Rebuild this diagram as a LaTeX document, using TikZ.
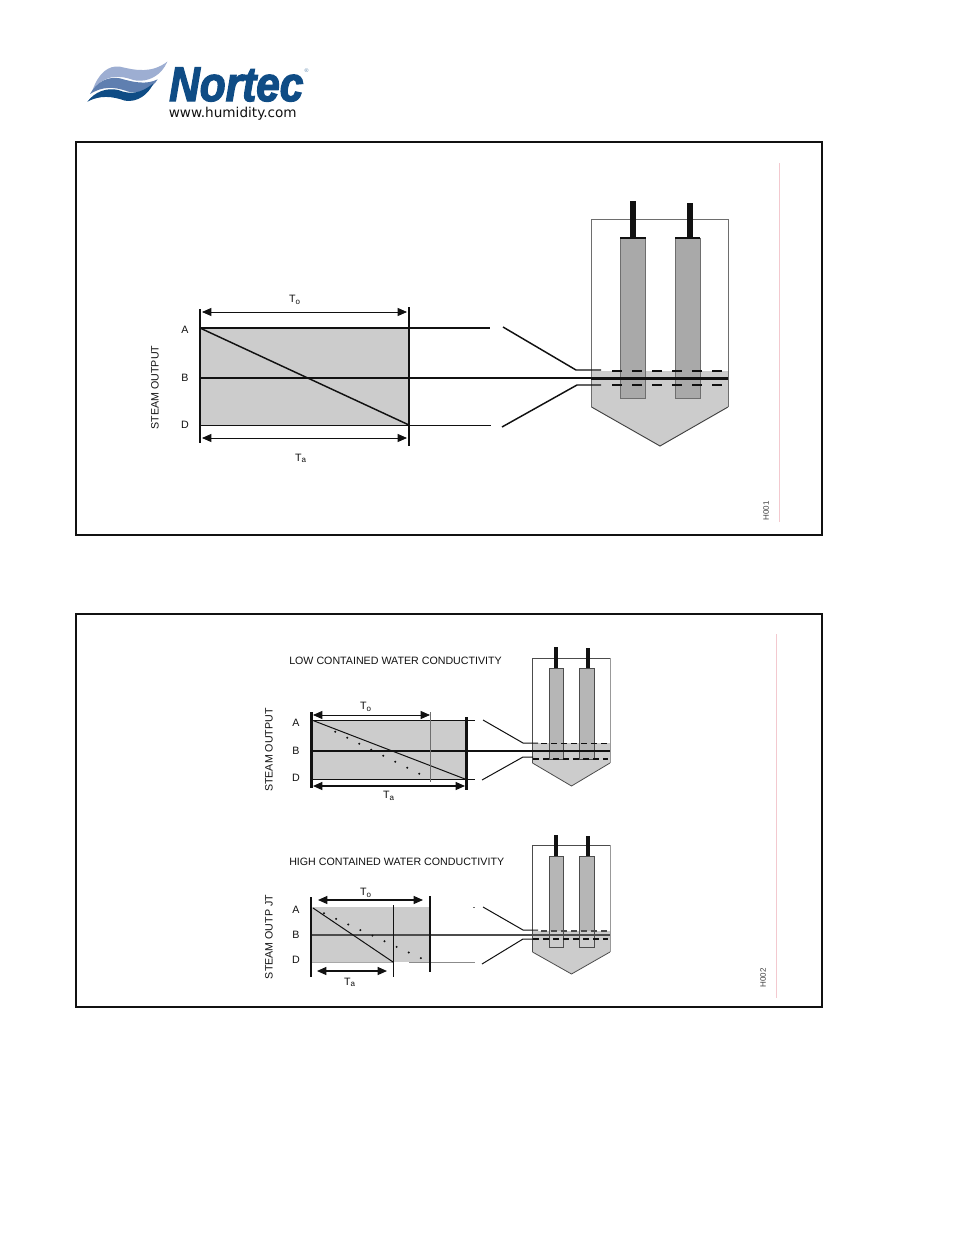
\documentclass[tikz,border=0pt]{standalone}
\usepackage{fontspec}
\setmainfont{Liberation Sans}
\newfontfamily\logofont[FakeBold=3]{Liberation Sans Bold Italic}
\newfontfamily\urlfont{DejaVu Sans}
\usetikzlibrary{arrows.meta}
\definecolor{chartgray}{HTML}{CCCCCC}
\definecolor{elecgray}{HTML}{A9A9A9}
\definecolor{elecgrayb}{HTML}{B6B6B6}
\definecolor{edgegray}{HTML}{6E6E6E}
\definecolor{ink}{HTML}{111111}
\definecolor{logoblue}{HTML}{0F4C85}
\definecolor{wavelight}{HTML}{9DAED2}
\definecolor{wavemid}{HTML}{5F7FB0}
\definecolor{pinkline}{HTML}{F3C9CF}
\tikzset{
  x=0.75pt,y=-0.75pt,
  frameline/.style={draw=ink,line width=1.5pt},
  pinkrule/.style={draw=pinkline,line width=0.6pt},
  fillchart/.style={fill=chartgray,draw=none},
  bar/.style={draw=ink,line width=2.2pt},
  level/.style={draw=ink,line width=1.1pt},
  thinlevel/.style={draw=ink,line width=0.75pt},
  greylevel/.style={draw=edgegray!80,line width=0.7pt},
  dashlevel/.style={draw=ink,line width=1.5pt,dash pattern=on 7.5pt off 7.5pt},
  dashlevelb/.style={draw=ink,line width=0.9pt,dash pattern=on 4.5pt off 3pt},
  dim/.style={draw=ink,line width=0.6pt,{Triangle[length=7pt,width=6pt]}-{Triangle[length=7pt,width=6pt]}},
  tankline/.style={draw=edgegray,line width=0.7pt},
  tanklineb/.style={draw=ink!75,line width=0.6pt},
  rod/.style={draw=ink,line width=4.5pt},
  rodb/.style={draw=ink,line width=3pt},
  lbl/.style={font=\fontsize{8}{9}\selectfont,text=ink,inner sep=0pt},
  title/.style={font=\fontsize{8}{9}\selectfont,text=ink,inner sep=0pt,anchor=west},
  code/.style={font=\fontsize{6}{7}\selectfont,text=ink!80,inner sep=0pt,rotate=90}
}
\begin{document}
\begin{tikzpicture}
\useasboundingbox[fill=white] (0,0) rectangle (954,1235);
% logo
\begin{scope}[shift={(70,50)},x=0.25pt,y=-0.25pt]
\fill[wavelight] (68,120) .. controls (85,70) and (115,45) .. (150,50) .. controls (200,62) and (245,70) .. (292,35) .. controls (275,75) and (235,100) .. (190,90) .. controls (140,72) and (100,78) .. (68,120) -- cycle;
\fill[wavemid] (60,132) .. controls (80,95) and (115,78) .. (150,85) .. controls (190,97) and (230,105) .. (263,88) .. controls (245,118) and (210,132) .. (175,125) .. controls (130,108) and (95,110) .. (60,132) -- cycle;
\fill[logoblue] (52,155) .. controls (75,125) and (110,112) .. (145,120) .. controls (180,135) and (215,130) .. (250,100) .. controls (235,135) and (200,158) .. (165,152) .. controls (125,138) and (90,135) .. (52,155) -- cycle;
\end{scope}
\node[inner sep=0pt,anchor=base west,text=logoblue,xscale=0.87,text depth=0pt,text height=26pt] (logoname) at (169,101) {\logofont\fontsize{36.5}{38}\selectfont Nortec};
\node[inner sep=0pt,text=logoblue!70] (logoreg) at (306.5,71) {\fontsize{4}{5}\selectfont ®};
\node[inner sep=0pt,text=ink,anchor=base west,text height=7pt,text depth=2pt] (logourl) at (168.5,117) {\urlfont\fontsize{10.2}{11}\selectfont www.humidity.com};
% frames
\draw[frameline] (76,142) rectangle (822,535);
\draw[frameline] (76,614) rectangle (822,1007);
\draw[pinkrule] (779.5,163) -- (779.5,522);
\draw[pinkrule] (776.5,634) -- (776.5,998);
\node[code] (h1) at (766,511) {H001};
\node[code] (h2) at (763,978) {H002};

% ---------- panel 1
\fill[fillchart] (200,328) rectangle (409,425);
\fill[fillchart] (591.5,371) -- (728,371) -- (728,407) -- (660,446) -- (591.5,407) -- cycle;
\draw[tankline] (591.5,407) -- (591.5,219.5) -- (728,219.5) -- (728,407);
\draw[tankline,draw=ink!80] (591.5,407) -- (660,446) -- (728,407);
\draw[tankline,fill=elecgray] (620,238) rectangle (645.5,398.5);
\draw[tankline,fill=elecgray] (675,238) rectangle (700,398.5);
\draw[draw=ink,line width=0.8pt] (620,238) -- (645.5,238) (675,238) -- (700,238);
\draw[rod] (632.5,201) -- (632.5,238);
\draw[rod] (689.5,203) -- (689.5,239);
\draw[level] (200,328) -- (490,328);
\draw[level] (200,425.5) -- (491,425.5);
\draw[level] (200,378) -- (591,378);
\draw[draw=ink,line width=1.7pt] (591,378.5) -- (728,378.5);
\draw[level] (200,328) -- (409,425);
\draw[bar] (200,309) -- (200,443);
\draw[bar] (409,307) -- (409,446);
\draw[dim] (202,312) -- (407,312);
\draw[dim] (202,438) -- (407,438);
\draw[level] (503,327) -- (576,370) -- (601,370);
\draw[level] (502,427) -- (577,385) -- (601,385);
\draw[dashlevel] (612,370.5) -- (722,370.5);
\draw[dashlevel] (612,385) -- (722,385);
\node[lbl] (p1to) at (295,300) {T\textsubscript{o}};
\node[lbl] (p1ta) at (301,458.5) {T\textsubscript{a}};
\node[lbl] (p1a) at (185,329.5) {A};
\node[lbl] (p1b) at (185,377.5) {B};
\node[lbl] (p1d) at (185,425) {D};
\node[lbl,rotate=90] (p1s) at (155,387.5) {STEAM OUTPUT};

% ---------- panel 2 top
\node[title] (t1) at (289,661) {LOW CONTAINED WATER CONDUCTIVITY};
\fill[fillchart] (311,720.5) rectangle (466,779);
\fill[fillchart] (532.5,743) -- (610,743) -- (610,763) -- (571.5,786) -- (532.5,763) -- cycle;
\draw[tanklineb] (532.5,763) -- (532.5,658) -- (610,658);
\draw[tankline,draw=edgegray!70] (610,658) -- (610,763);
\draw[tanklineb] (532.5,763) -- (571.5,786) -- (610,763);
\draw[tanklineb,fill=elecgrayb] (549,668) rectangle (563,759);
\draw[tanklineb,fill=elecgrayb] (579,668) rectangle (594,759);
\draw[rodb] (555.5,647) -- (555.5,668);
\draw[rodb] (587.5,648) -- (587.5,668);
\draw[thinlevel] (311,720.5) -- (475,720.5);
\draw[thinlevel] (311,779) -- (475,779);
\draw[level] (311,751) -- (610,751);
\draw[thinlevel] (313,720.5) -- (465,779);
\foreach \n in {0,...,7}{\fill[ink] ({335.3+12*\n},{731.7+6*\n}) circle (1.1);}
\draw[draw=edgegray,line width=0.6pt] (430,712) -- (430,782);
\draw[bar] (311.5,712) -- (311.5,788);
\draw[bar] (466.5,717) -- (466.5,790);
\draw[dim] (313,715) -- (430,715);
\draw[dim,line width=0.9pt] (313,786) -- (465,786);
\draw[thinlevel] (483,720) -- (523,743) -- (538,743);
\draw[thinlevel] (482,780) -- (523,757) -- (533,757);
\draw[dashlevelb] (541,743.5) -- (608,743.5);
\draw[dashlevelb] (533,759) -- (608,759);
\node[lbl] (p2to) at (366,707) {T\textsubscript{o}};
\node[lbl] (p2ta) at (389,796) {T\textsubscript{a}};
\node[lbl] (p2a) at (296,723) {A};
\node[lbl] (p2b) at (296,751) {B};
\node[lbl] (p2d) at (296,778) {D};
\node[lbl,rotate=90] (p2s) at (269,750) {STEAM OUTPUT};

% ---------- panel 2 bottom
\node[title] (t2) at (289,862) {HIGH CONTAINED WATER CONDUCTIVITY};
\fill[fillchart] (311,907) rectangle (430,962);
\fill[fillchart] (532.5,931) -- (610,931) -- (610,952) -- (571.5,974) -- (532.5,952) -- cycle;
\draw[tanklineb] (532.5,952) -- (532.5,845) -- (610,845);
\draw[tankline,draw=edgegray!70] (610,845) -- (610,952);
\draw[tanklineb] (532.5,952) -- (571.5,974) -- (610,952);
\fill[elecgrayb] (549,856) rectangle (563,931);
\fill[elecgrayb] (579,856) rectangle (594,931);
\draw[tanklineb] (549,856) rectangle (563,947);
\draw[tanklineb] (579,856) rectangle (594,947);
\draw[rodb] (555.5,835) -- (555.5,856);
\draw[rodb] (587.5,836) -- (587.5,856);
\draw[level,draw=ink!75,line width=1.2pt] (311,935) -- (610,935);
\draw[thinlevel,draw=edgegray!60] (311,962) -- (393,962);
\draw[greylevel] (409,962) -- (475,962);
\draw[thinlevel,draw=edgegray] (473,907) -- (474.5,907);
\draw[thinlevel] (313,908) -- (393,962);
\foreach \n in {0,...,8}{\fill[ink] ({324+12.1*\n},{913.3+5.6*\n}) circle (1.1);}
\draw[thinlevel] (393,905) -- (393,977);
\draw[bar] (311,897) -- (311,977);
\draw[bar] (430,896) -- (430,972);
\draw[dim,line width=0.9pt] (318,900) -- (423,900);
\draw[dim,line width=0.9pt] (317,971) -- (387,971);
\draw[thinlevel] (483,907) -- (523,930) -- (538,930);
\draw[thinlevel] (482,964) -- (523,939) -- (533,939);
\draw[dashlevelb,draw=ink!75] (541,931) -- (608,931);
\draw[dashlevelb] (533,939) -- (608,939);
\node[lbl] (p3to) at (366,893) {T\textsubscript{o}};
\node[lbl] (p3ta) at (350,982.5) {T\textsubscript{a}};
\node[lbl] (p3a) at (296,909.5) {A};
\node[lbl] (p3b) at (296,934.5) {B};
\node[lbl] (p3d) at (296,959.5) {D};
\node[lbl,rotate=90] (p3s) at (269,937) {STEAM OUTP JT};
\end{tikzpicture}
\end{document}
